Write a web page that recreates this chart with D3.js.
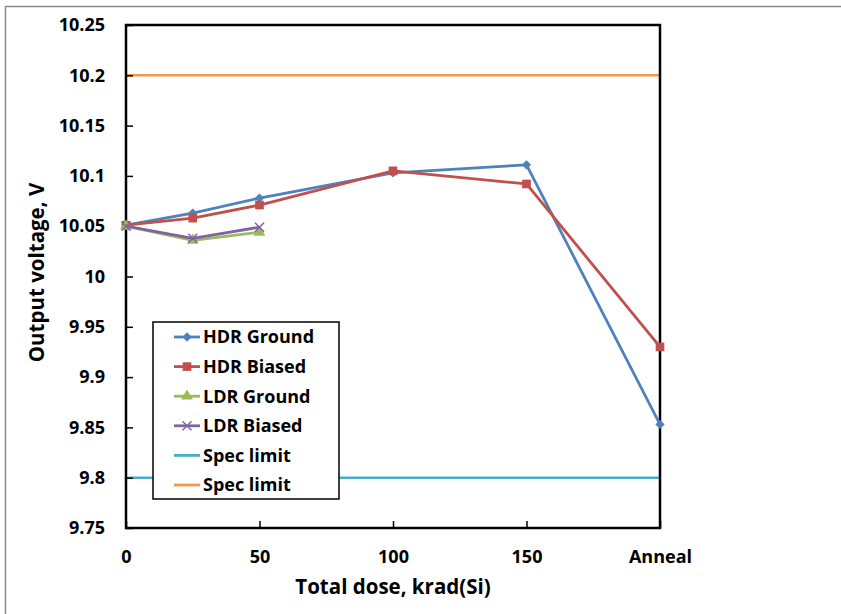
<!DOCTYPE html>
<meta charset="utf-8">
<style>
body { margin: 0; background: #fff; }
text { font-family: "Open Sans", Lato, sans-serif; font-weight: bold; fill: #000; }
.tick text { font-size: 18px; }
.title { font-size: 20.5px; }
.legend text { font-size: 18px; }
</style>
<svg width="841" height="614"></svg>
<script src="https://d3js.org/d3.v7.min.js"></script>
<script>

// doses in krad(Si); "Anneal" is drawn at position 200
var doses = [0, 25, 50, 100, 150, 200];
var xTicks = [0, 50, 100, 150, 200];
var xTickLabels = ["0", "50", "100", "150", "Anneal"];
var yTicks = [9.75, 9.8, 9.85, 9.9, 9.95, 10, 10.05, 10.1, 10.15, 10.2, 10.25];

var hdrGround = [10.051, 10.063, 10.078, 10.103, 10.111, 9.853];
var hdrBiased = [10.051, 10.058, 10.071, 10.105, 10.092, 9.930];
var ldrGround = [10.050, 10.036, 10.044];
var ldrBiased = [10.050, 10.038, 10.049];
var specLow = 9.8, specHigh = 10.2;

var series = [
  {name: "HDR Ground", values: hdrGround, color: "#4f81bd", symbol: "diamond"},
  {name: "HDR Biased", values: hdrBiased, color: "#c0504d", symbol: "square"},
  {name: "LDR Ground", values: ldrGround, color: "#9bbb59", symbol: "triangle"},
  {name: "LDR Biased", values: ldrBiased, color: "#8064a2", symbol: "cross"}
];
var limits = [
  {name: "Spec limit", value: specLow, color: "#4bacc6"},
  {name: "Spec limit", value: specHigh, color: "#f79646"}
];

var svg = d3.select("svg"),
    margin = {top: 25, right: 181, bottom: 86, left: 126},
    width = +svg.attr("width") - margin.left - margin.right,
    height = +svg.attr("height") - margin.top - margin.bottom;

// outer frame (only top and left edges show)
svg.append("rect")
    .attr("x", 5.5).attr("y", 6.5)
    .attr("width", 850).attr("height", 650)
    .attr("fill", "none").attr("stroke", "#8c8c8c").attr("stroke-width", 1.5);

var x = d3.scaleLinear().domain([0, 200]).range([0, width]);
var y = d3.scaleLinear().domain([9.75, 10.25]).range([height, 0]);

var g = svg.append("g").attr("transform", "translate(" + margin.left + "," + margin.top + ")");

// spec limit lines
g.selectAll(".limit")
  .data(limits)
  .enter().append("line")
    .attr("class", "limit")
    .attr("x1", 0).attr("x2", width)
    .attr("y1", function(d) { return y(d.value); })
    .attr("y2", function(d) { return y(d.value); })
    .attr("stroke", function(d) { return d.color; })
    .attr("stroke-width", 2.5);

// axes
var xAxis = g.append("g")
    .attr("transform", "translate(0," + height + ")")
    .call(d3.axisBottom(x).tickValues(xTicks)
      .tickFormat(function(d, i) { return xTickLabels[i]; })
      .tickSize(-7).tickPadding(22));
xAxis.select(".domain").remove();
xAxis.selectAll(".tick text").attr("dy", "0.71em");

var yAxis = g.append("g")
    .call(d3.axisLeft(y).tickValues(yTicks)
      .tickFormat(function(d) { return d3.format("")(+d.toFixed(2)); })
      .tickSize(-7).tickPadding(21));
yAxis.select(".domain").remove();

g.selectAll(".tick line").attr("stroke", "#000").attr("stroke-width", 1.5);

// plot frame
g.append("rect")
    .attr("width", width).attr("height", height)
    .attr("fill", "none").attr("stroke", "#000").attr("stroke-width", 2.5);

var line = d3.line()
    .x(function(d, i) { return x(doses[i]); })
    .y(function(d) { return y(d); });

var symbolType = {
  diamond: d3.symbolDiamond2,
  square: d3.symbolSquare,
  triangle: d3.symbolTriangle,
  cross: d3.symbolX
};
var symbolSize = {diamond: 55, square: 75, triangle: 60, cross: 55};

function drawMarker(sel, s) {
  var isCross = s.symbol === "cross";
  sel.attr("d", d3.symbol().type(symbolType[s.symbol]).size(symbolSize[s.symbol]))
    .attr("fill", isCross ? "none" : s.color)
    .attr("stroke", s.color)
    .attr("stroke-width", isCross ? 1.5 : 0);
}

var sg = g.selectAll(".series")
  .data(series)
  .enter().append("g")
    .attr("class", "series");

sg.append("path")
    .attr("d", function(d) { return line(d.values); })
    .attr("fill", "none")
    .attr("stroke", function(d) { return d.color; })
    .attr("stroke-width", 2.8)
    .attr("stroke-linejoin", "round");

sg.each(function(s) {
  d3.select(this).selectAll(".marker")
    .data(s.values)
    .enter().append("path")
      .attr("class", "marker")
      .attr("transform", function(d, i) { return "translate(" + x(doses[i]) + "," + y(d) + ")"; })
      .call(drawMarker, s);
});

// axis titles
svg.append("text")
    .attr("class", "title")
    .attr("x", margin.left + width / 2)
    .attr("y", 594)
    .attr("text-anchor", "middle")
    .text("Total dose, krad(Si)");

svg.append("text")
    .attr("class", "title")
    .attr("transform", "translate(44," + (margin.top + height / 2 - 4) + ") rotate(-90)")
    .attr("text-anchor", "middle")
    .text("Output voltage, V");

// legend
var legendItems = series.concat(limits);
var legend = svg.append("g")
    .attr("class", "legend")
    .attr("transform", "translate(153,322)");

legend.append("rect")
    .attr("width", 186).attr("height", 177)
    .attr("fill", "#fff").attr("stroke", "#000").attr("stroke-width", 1.5);

var item = legend.selectAll(".item")
  .data(legendItems)
  .enter().append("g")
    .attr("class", "item")
    .attr("transform", function(d, i) { return "translate(0," + (15 + i * 29.6) + ")"; });

item.append("line")
    .attr("x1", 21).attr("x2", 47)
    .attr("stroke", function(d) { return d.color; })
    .attr("stroke-width", 2.8);

item.filter(function(d) { return d.symbol; })
  .append("path")
    .attr("transform", "translate(34,0)")
    .each(function(d) { d3.select(this).call(drawMarker, d); });

item.append("text")
    .attr("x", 50)
    .attr("dy", "0.35em")
    .text(function(d) { return d.name; });

</script>
